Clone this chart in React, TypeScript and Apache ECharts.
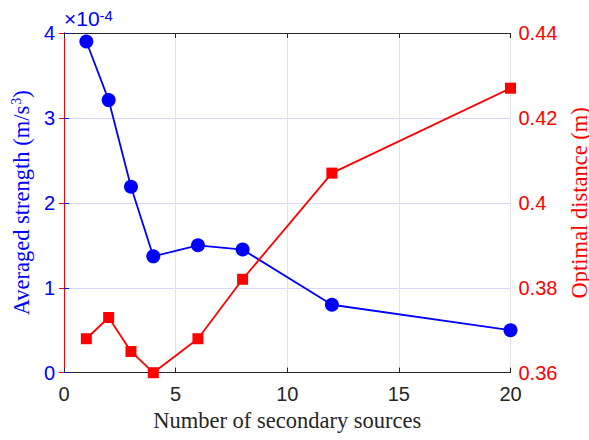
import React, { useEffect, useRef } from "react";
import * as echarts from "echarts";

// Number of secondary sources for each configuration
const sources = [1, 2, 3, 4, 6, 8, 12, 20];
// Averaged strength, m/s^3
const strength = [3.9e-4, 3.21e-4, 2.19e-4, 1.37e-4, 1.5e-4, 1.45e-4, 0.8e-4, 0.5e-4];
// Optimal distance, m
const distance = [0.368, 0.373, 0.365, 0.36, 0.368, 0.382, 0.407, 0.427];

const xTicks = [0, 5, 10, 15, 20];
const strengthTicks = [0, 1e-4, 2e-4, 3e-4, 4e-4];
const distanceTicks = [0.36, 0.38, 0.4, 0.42, 0.44];

const BLUE = "#0000ff";
const RED = "#ff0000";
const DARK = "#262626";
const SANS = "'Liberation Sans', Arial, sans-serif";
const SERIF = "'Liberation Serif', 'Times New Roman', serif";

export default function App() {
  const ref = useRef<HTMLDivElement>(null);

  useEffect(() => {
    if (!ref.current) return;
    const chart = echarts.init(ref.current, undefined, { renderer: "svg" });

    const pairs = (ys: number[]) => sources.map((x, i) => [x, ys[i]]);

    chart.setOption({
      animation: false,
      backgroundColor: "#ffffff",
      grid: {
        left: 64,
        top: 33,
        right: 78.5,
        bottom: 67.3,
        containLabel: false,
        outerBoundsMode: "none",
      },
      xAxis: [
        {
          type: "value",
          position: "bottom",
          min: xTicks[0],
          max: xTicks[xTicks.length - 1],
          interval: 5,
          name: "Number of secondary sources",
          nameLocation: "middle",
          nameGap: 36,
          nameTextStyle: { fontFamily: SERIF, fontSize: 22.5, color: DARK },
          axisLine: { show: true, lineStyle: { color: DARK, width: 1 } },
          axisTick: { show: true, inside: true, length: 5, lineStyle: { color: DARK } },
          axisLabel: { fontFamily: SANS, fontSize: 20, color: DARK, margin: 11 },
          splitLine: { show: true, lineStyle: { color: "#e3e3e3", width: 1 } },
        },
        {
          type: "value",
          position: "top",
          min: xTicks[0],
          max: xTicks[xTicks.length - 1],
          interval: 5,
          axisLine: { show: true, lineStyle: { color: DARK, width: 1 } },
          axisTick: { show: true, inside: true, length: 5, lineStyle: { color: DARK } },
          axisLabel: { show: false },
          splitLine: { show: false },
        },
      ],
      yAxis: [
        {
          type: "value",
          position: "left",
          min: strengthTicks[0],
          max: strengthTicks[strengthTicks.length - 1],
          interval: 1e-4,
          name: "Averaged strength (m/s{sup|3})",
          nameLocation: "middle",
          nameGap: 21,
          nameTextStyle: {
            fontFamily: SERIF,
            fontSize: 22.5,
            color: BLUE,
            rich: {
              sup: { fontFamily: SERIF, fontSize: 14, color: BLUE, verticalAlign: "top", padding: [0, 0, 0, 1] },
            },
          },
          axisLine: { show: true, lineStyle: { color: BLUE, width: 1 } },
          axisTick: { show: true, inside: true, length: 5, lineStyle: { color: BLUE } },
          axisLabel: {
            fontFamily: SANS,
            fontSize: 20,
            color: BLUE,
            margin: 9,
            formatter: (v: number) => String(Math.round(v * 1e4)),
          },
          splitLine: { show: true, lineStyle: { color: "#d8d8ff", width: 1 } },
        },
        {
          type: "value",
          position: "right",
          min: distanceTicks[0],
          max: distanceTicks[distanceTicks.length - 1],
          interval: 0.02,
          name: "Optimal distance (m)",
          nameLocation: "middle",
          nameGap: 52,
          nameRotate: 90,
          nameTextStyle: { fontFamily: SERIF, fontSize: 22.5, lineHeight: 20, color: RED },
          axisLine: { show: true, lineStyle: { color: RED, width: 1 } },
          axisTick: { show: true, inside: true, length: 5, lineStyle: { color: RED } },
          axisLabel: {
            fontFamily: SANS,
            fontSize: 20,
            color: RED,
            margin: 8,
            formatter: (v: number) => String(parseFloat(v.toFixed(2))),
          },
          splitLine: { show: false },
        },
      ],
      graphic: [
        {
          type: "text",
          left: 64,
          top: 8,
          style: {
            text: "\u00d710{s|-4}",
            fontFamily: SANS,
            fontSize: 21,
            fill: BLUE,
            rich: {
              s: { fontFamily: SANS, fontSize: 15, fill: BLUE, verticalAlign: "top" },
            },
          },
        },
      ],
      series: [
        {
          type: "line",
          xAxisIndex: 0,
          yAxisIndex: 0,
          data: pairs(strength),
          symbol: "circle",
          symbolSize: 14,
          itemStyle: { color: BLUE },
          lineStyle: { color: BLUE, width: 1.8 },
          z: 3,
        },
        {
          type: "line",
          xAxisIndex: 0,
          yAxisIndex: 1,
          data: pairs(distance),
          symbol: "rect",
          symbolSize: 11,
          itemStyle: { color: RED },
          lineStyle: { color: RED, width: 1.8 },
          z: 4,
        },
      ],
    });

    return () => chart.dispose();
  }, []);

  return (
    <div
      ref={ref}
      style={{ position: "fixed", left: 0, top: 0, width: 589, height: 440, background: "#fff" }}
    />
  );
}
